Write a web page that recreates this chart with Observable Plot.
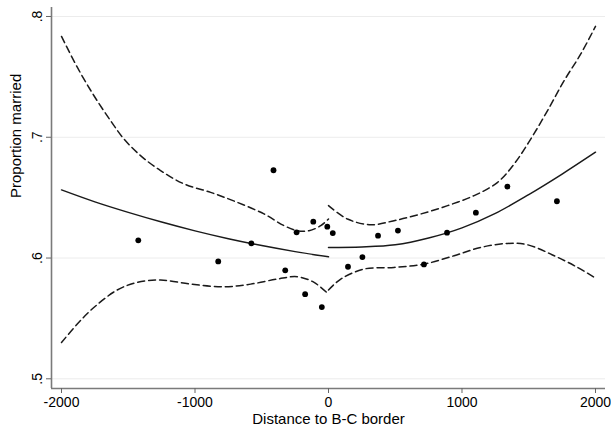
<!DOCTYPE html>
<html><head><meta charset="utf-8">
<script src="https://cdn.jsdelivr.net/npm/d3@7"></script>
<script src="https://cdn.jsdelivr.net/npm/@observablehq/plot@0.6"></script>
<style>body{margin:0;background:#fff}</style>
</head><body><div id="chart"></div>
<script>
// Binned means
const binDistance = [-1425, -826, -578, -412, -324, -239, -175, -114, -50, -9, 32, 146, 254, 371, 520, 715, 888, 1104, 1340, 1711];
const binMarried  = [0.6147, 0.5972, 0.6122, 0.6727, 0.5898, 0.6213, 0.5701, 0.6301, 0.5594, 0.626, 0.6207, 0.5928, 0.6008, 0.6185, 0.6227, 0.5947, 0.621, 0.6376, 0.6592, 0.647];

// Fitted line, left of border
const fitLeftX = [-2000, -1750, -1500, -1250, -1000, -750, -500, -250, 0];
const fitLeftY = [0.6564, 0.6465, 0.6378, 0.6298, 0.6225, 0.616, 0.6103, 0.6053, 0.601];
// Fitted line, right of border
const fitRightX = [0, 250, 500, 750, 1000, 1250, 1500, 1750, 2000];
const fitRightY = [0.6088, 0.6092, 0.611, 0.6166, 0.625, 0.637, 0.6525, 0.6695, 0.6876];

// Upper confidence band, left
const upLeftX = [-2000, -1882, -1758, -1633, -1533, -1408, -1258, -1083, -883, -683, -483, -333, -233, -146, -58, 0];
const upLeftY = [0.7835, 0.758, 0.7346, 0.7138, 0.6987, 0.6848, 0.6724, 0.6614, 0.6544, 0.6461, 0.6365, 0.6268, 0.6226, 0.6226, 0.6268, 0.6323];
// Lower confidence band, left
const loLeftX = [-2000, -1882, -1758, -1583, -1433, -1258, -1033, -783, -583, -383, -233, -108, 0];
const loLeftY = [0.530, 0.5453, 0.559, 0.5735, 0.5798, 0.5818, 0.5784, 0.5762, 0.5784, 0.5826, 0.5845, 0.5798, 0.5701];
// Upper confidence band, right
const upRightX = [0, 142, 317, 491, 692, 892, 1091, 1267, 1391, 1516, 1641, 1766, 1891, 2000];
const upRightY = [0.6434, 0.6323, 0.6276, 0.6309, 0.6365, 0.6434, 0.6517, 0.6627, 0.6779, 0.6987, 0.7221, 0.747, 0.7692, 0.7918];
// Lower confidence band, right
const loRightX = [0, 92, 267, 491, 716, 941, 1141, 1342, 1491, 1691, 1866, 2000];
const loRightY = [0.5735, 0.5826, 0.5909, 0.5922, 0.595, 0.6019, 0.6088, 0.6121, 0.611, 0.6019, 0.5922, 0.5834];

const xTicks = [-2000, -1000, 0, 1000, 2000];
const yTicks = [0.5, 0.6, 0.7, 0.8];
const xLabel = "Distance to B-C border";
const yLabel = "Proportion married";

const xDomain = [-2075, 2075];
const yDomain = [0.49197, 0.80745];

const toRows = (xs, ys) => xs.map((x, i) => ({x, y: ys[i]}));
const points = toRows(binDistance, binMarried);
const dashed = {x: "x", y: "y", curve: "catmull-rom", stroke: "#1a1a1a", strokeWidth: 1.5, strokeDasharray: "7,4"};
const solid = {x: "x", y: "y", curve: "catmull-rom", stroke: "#1a1a1a", strokeWidth: 1.5};

const chart = Plot.plot({
  width: 611, height: 431,
  marginLeft: 51, marginRight: 6, marginTop: 7, marginBottom: 43,
  style: {fontFamily: "'Liberation Sans', Arial, Helvetica, sans-serif", fontSize: "15px", color: "#000", background: "#fff"},
  x: {domain: xDomain},
  y: {domain: yDomain},
  marks: [
    Plot.gridY(yTicks, {stroke: "#ececec", strokeOpacity: 1, strokeWidth: 1}),
    Plot.ruleX([xDomain[0]], {stroke: "#7a7a7a", strokeWidth: 1.6}),
    Plot.ruleY([yDomain[0]], {stroke: "#7a7a7a", strokeWidth: 1.6}),
    Plot.axisX({ticks: xTicks, tickSize: 5, tickPadding: 4, tickFormat: d => String(d), stroke: "#666", fill: "#000", fontSize: 14, label: null}),
    Plot.axisY({ticks: yTicks, tickSize: 5, tickPadding: 5, tickRotate: -90, tickFormat: d => String(d).replace("0.", "."), stroke: "#666", fill: "#000", fontSize: 14, label: null}),
    Plot.line(toRows(upLeftX, upLeftY), dashed),
    Plot.line(toRows(loLeftX, loLeftY), dashed),
    Plot.line(toRows(upRightX, upRightY), dashed),
    Plot.line(toRows(loRightX, loRightY), dashed),
    Plot.line(toRows(fitLeftX, fitLeftY), solid),
    Plot.line(toRows(fitRightX, fitRightY), solid),
    Plot.dot(points, {x: "x", y: "y", r: 2.9, fill: "#000", stroke: null}),
    Plot.text([xLabel], {text: d => d, frameAnchor: "bottom", dy: 35, fontSize: 15, fill: "#000"}),
    Plot.text([yLabel], {text: d => d, frameAnchor: "left", dx: -35, rotate: -90, fontSize: 15, fill: "#000"})
  ]
});
document.getElementById("chart").appendChild(chart);
</script>
</body></html>
